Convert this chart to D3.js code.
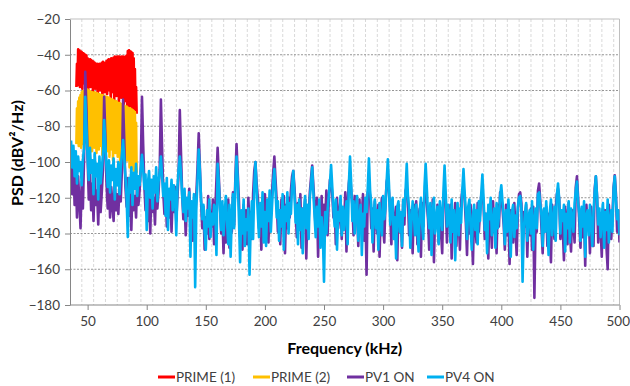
<!DOCTYPE html>
<html><head><meta charset="utf-8">
<script src="https://cdn.jsdelivr.net/npm/d3@7"></script>
<style>
html,body{margin:0;padding:0;background:#fff;}
svg{display:block;font-family:Lato,"Open Sans",sans-serif;}
</style></head><body>
<svg id="chart" width="630" height="386"></svg>
<script>
// Series names and colours
const seriesNames = ["PRIME (1)", "PRIME (2)", "PV1 ON", "PV4 ON"];
const seriesColors = ["#FF0000", "#FFC000", "#7030A0", "#00B0F0"];

// Axis ticks
const xTicks = [50, 100, 150, 200, 250, 300, 350, 400, 450, 500];
const yTicks = [-20, -40, -60, -80, -100, -120, -140, -160, -180];

// PRIME spectra, 0.5 kHz steps from 40.5 kHz
const primeStart = 40.5, primeStep = 0.5;
const prime1 = [
  -58,-45,-57,-37,-55,-37.5,-58,-38,-54,-38.5,-59,-39,-56,-39.5,-53,-40,-57,-40.5,-55,-42,
  -60,-42.5,-54,-42.5,-58,-43,-56,-43.5,-61,-44,-55,-44.5,-59,-45,-57,-45,-62,-45.5,-56,-45,
  -60,-45,-58,-44.5,-63,-44,-57,-44.5,-61,-45,-58,-43.5,-62,-43,-57,-42.5,-60,-42.5,-64,-42,
  -58,-42.5,-61,-41.5,-66,-41,-59,-41.5,-63,-41,-60,-41,-67,-41,-61,-41.5,-64,-41,-62,-41,
  -68,-41.5,-63,-41,-66,-40.5,-70,-38,-64,-37.5,-69,-38,-65,-38.5,-71,-39,-67,-42,-72,-48,
  -69,-58,-73
];
const prime2 = [
  -90,-70,-88,-66,-91,-64,-87,-62.5,-92,-61,-86,-60.5,-90,-60,-85,-59.7,-89,-60,-93,-59.5,
  -87,-60,-91,-60.5,-86,-61,-94,-61,-88,-61.5,-92,-61,-87,-61.5,-95,-61.5,-89,-62,-93,-62,
  -88,-62.5,-91,-62.5,-96,-63,-89,-63,-92,-63.5,-87,-63.5,-94,-64,-90,-64,-97,-64.5,-88,-65,
  -93,-65,-99,-65.5,-90,-66,-95,-66,-89,-66.5,-97,-67,-92,-67,-100,-67.5,-93,-68,-98,-68,
  -91,-68.5,-101,-69,-95,-69,-99,-69.5,-94,-70,-103,-70,-96,-70.5,-104,-71,-98,-71.5,-105,-72,
  -100,-78,-106
];

// PV spectra, 1 kHz steps from 36 kHz
const pvStart = 36, pvStep = 1;
const pv1On = [
  -95,-118,-100,-124,-104,-131,-108,-122,-137,-111,-126,-98,
  -49.5,-70,-98,-121,-106,-127,-112,-133,-109,-124,-116,-135,-111,-128,-117,-104,
  -63.5,-85,-112,-126,-108,-131,-114,-124,-133,-110,-127,-118,-129,-113,-122,-105,
  -65,-88,-114,-125,-109,-130,-117,-138,-112,-127,-119,-131,-108,-124,-116,-103,
  -63.5,-90,-113,-127,-111,-133,-118,-140,-114,-128,-120,-135,-112,-126,-117,-104,
  -65,-92,-117,-129,-113,-136,-121,-131,-116,-139,-119,-128,-114,-133,-120,-106,
  -71,-95,-118,-132,-121,-141,-124,-130,-115,-137,-126,-144,-122,-135,-118,-103,
  -84,-103,-122,-137,-125,-149,-131,-140,-119,-143,-128,-136,-121,-146,-127,-110,
  -92,-108,-124,-140,-129,-151,-126,-145,-133,-121,-148,-130,-139,-117,-135,-109,
  -90,-106,-121,-142,-131,-149,-124,-138,-127,-146,-120,-136,-128,-143,-118,-105,
  -100,-112,-120,-137,-126,-149,-122,-140,-118,-134,-125,-145,-121,-130,-117,-106,
  -97,-110,-122,-139,-127,-146,-121,-135,-119,-151,-124,-137,-120,-131,-116,-108,
  -105,-114,-127,-142,-123,-137,-118,-148,-126,-134,-121,-154,-125,-132,-117,-109,
  -102,-113,-125,-138,-120,-153,-127,-136,-119,-144,-124,-133,-116,-141,-122,-110,
  -111,-118,-131,-124,-146,-120,-137,-129,-121,-143,-126,-134,-117,-150,-123,-112,
  -106,-116,-124,-141,-119,-133,-127,-147,-121,-138,-130,-118,-144,-125,-163,-117,
  -115,-119,-137,-126,-150,-122,-131,-140,-124,-153,-128,-120,-136,-145,-123,-111,
  -108,-117,-128,-146,-121,-139,-133,-125,-155,-124,-137,-129,-148,-122,-135,-116,
  -114,-120,-141,-127,-134,-151,-124,-138,-122,-146,-130,-126,-153,-123,-136,-118,
  -114,-123,-132,-149,-125,-140,-121,-156,-129,-134,-124,-145,-127,-139,-151,-119,
  -118,-122,-145,-128,-136,-124,-154,-130,-138,-123,-147,-126,-133,-149,-122,-116,
  -113,-121,-134,-152,-126,-140,-124,-137,-157,-127,-133,-145,-123,-139,-128,-119,
  -118,-124,-143,-129,-136,-154,-125,-131,-148,-122,-139,-127,-151,-124,-136,-117,
  -120,-126,-135,-149,-124,-141,-130,-157,-127,-134,-145,-123,-138,-152,-128,-118,
  -117,-123,-146,-128,-136,-124,-153,-130,-141,-126,-149,-125,-176,-133,-139,-116,
  -112,-122,-137,-151,-127,-134,-125,-147,-129,-140,-156,-124,-136,-143,-126,-118,
  -115,-121,-143,-128,-137,-155,-125,-132,-146,-123,-139,-150,-127,-134,-145,-114,
  -108,-120,-134,-148,-126,-142,-131,-158,-124,-137,-129,-151,-125,-140,-147,-115,
  -108,-119,-145,-129,-136,-153,-126,-139,-127,-148,-160,-124,-134,-143,-131,-114,
  -107.5,-118,-139,-127,-145
];
const pv4On = [
  -88,-103,-91,-108,-94,-112,-97,-105,-100,-113,-99,-92,
  -63.5,-80,-97,-110,-92,-106,-99,-118,-95,-108,-101,-121,-97,-112,-104,-96,
  -76.5,-90,-103,-114,-99,-117,-102,-110,-98,-121,-104,-113,-100,-118,-103,-96,
  -87.7,-98,-108,-120,-142,-109,-117,-103,-124,-106,-115,-101,-119,-108,-113,-104,
  -96,-104,-115,-107,-138,-112,-105,-120,-110,-126,-108,-117,-103,-122,-111,-106,
  -97,-108,-119,-112,-130,-109,-138,-115,-121,-110,-127,-113,-118,-141,-114,-104,
  -97,-106,-119,-128,-115,-133,-120,-126,-117,-153,-122,-131,-118,-170,-125,-110,
  -93,-105,-121,-132,-124,-139,-149,-127,-136,-121,-142,-129,-135,-124,-126,-152,
  -101,-112,-126,-138,-122,-141,-128,-119,-134,-146,-124,-153,-130,-118,-137,-112,
  -97,-110,-131,-156,-127,-140,-121,-147,-132,-138,-126,-163,-135,-122,-143,-114,
  -100,-115,-129,-142,-123,-136,-117,-145,-128,-147,-121,-133,-116,-139,-125,-112,
  -104,-116,-131,-122,-144,-127,-136,-118,-149,-125,-133,-117,-140,-123,-129,-113,
  -105,-118,-134,-124,-146,-121,-138,-126,-151,-128,-119,-137,-124,-143,-120,-113,
  -103,-117,-130,-142,-125,-136,-121,-148,-131,-140,-167,-128,-140,-127,-119,-112,
  -101.7,-114,-127,-136,-121,-149,-128,-133,-119,-141,-125,-138,-130,-122,-146,-113,
  -97,-112,-133,-122,-140,-126,-119,-144,-131,-124,-152,-129,-136,-120,-128,-115,
  -98,-116,-124,-145,-130,-121,-137,-127,-149,-123,-134,-141,-119,-132,-126,-111,
  -98.5,-113,-135,-126,-120,-143,-131,-154,-125,-122,-139,-128,-147,-121,-130,-116,
  -101,-119,-126,-148,-133,-122,-129,-141,-124,-137,-150,-127,-120,-135,-143,-114,
  -101,-115,-129,-137,-123,-152,-128,-120,-140,-133,-125,-146,-122,-131,-138,-117,
  -102,-118,-136,-124,-130,-145,-121,-139,-127,-155,-132,-123,-141,-126,-134,-116,
  -104,-117,-128,-143,-125,-121,-136,-149,-130,-124,-138,-127,-146,-122,-133,-118,
  -107,-120,-138,-129,-151,-124,-132,-120,-141,-135,-126,-148,-123,-137,-130,-119,
  -113,-122,-131,-146,-127,-139,-121,-133,-153,-128,-124,-142,-130,-137,-125,-120,
  -119,-126,-167,-138,-129,-123,-144,-131,-127,-140,-122,-149,-134,-126,-137,-118,
  -117,-124,-130,-147,-126,-139,-122,-135,-152,-128,-121,-141,-133,-125,-144,-119,
  -112,-121,-140,-127,-133,-124,-150,-129,-137,-122,-145,-126,-131,-139,-123,-116,
  -111,-123,-129,-144,-125,-136,-122,-153,-130,-127,-141,-124,-135,-147,-128,-117,
  -108,-119,-135,-126,-142,-131,-123,-148,-128,-138,-121,-145,-133,-127,-139,-115,
  -108,-121,-132,-127,-141
];

const svg = d3.select("#chart");
const plot = {left: 70, right: 619.5, top: 19, bottom: 305};

const x = d3.scaleLinear().domain([35.1, 500]).range([plot.left, plot.right]);
const y = d3.scaleLinear().domain([-180, -20]).range([plot.bottom, plot.top]);

// minor vertical grid, every 10 kHz from the axis minimum
const xGrid = d3.range(1, 47).map(k => 35.1 + 10 * k).filter(v => v < 500);
svg.append("g").selectAll("line").data(xGrid).join("line")
  .attr("x1", d => x(d)).attr("x2", d => x(d))
  .attr("y1", plot.top).attr("y2", plot.bottom)
  .attr("stroke", "#d9d9d9").attr("stroke-width", 1)
  .attr("stroke-dasharray", "3,2");

// major horizontal grid
svg.append("g").selectAll("line").data(yTicks.filter(v => v > -180 && v < -20)).join("line")
  .attr("x1", plot.left).attr("x2", plot.right)
  .attr("y1", d => y(d)).attr("y2", d => y(d))
  .attr("stroke", "#969696").attr("stroke-width", 1)
  .attr("stroke-dasharray", "2,1.5");

// plot frame (top and right)
svg.append("path")
  .attr("d", `M${plot.left},${plot.top}H${plot.right}V${plot.bottom}`)
  .attr("fill", "none").attr("stroke", "#bfbfbf").attr("stroke-width", 1);

// data series
svg.append("defs").append("clipPath").attr("id", "clip")
  .append("rect").attr("x", plot.left).attr("y", plot.top)
  .attr("width", plot.right - plot.left).attr("height", plot.bottom - plot.top);

const line = d3.line().x(d => x(d[0])).y(d => y(d[1]));
const toPts = (vals, start, step) => vals.map((v, i) => [start + i * step, v]);

const seriesData = [
  toPts(prime1, primeStart, primeStep),
  toPts(prime2, primeStart, primeStep),
  toPts(pv1On, pvStart, pvStep),
  toPts(pv4On, pvStart, pvStep)
];

const gData = svg.append("g").attr("clip-path", "url(#clip)");
seriesData.forEach((pts, i) => {
  gData.append("path").datum(pts)
    .attr("d", line)
    .attr("fill", "none")
    .attr("stroke", seriesColors[i])
    .attr("stroke-width", 2.6)
    .attr("stroke-linejoin", "round");
});

// axes
const axisColor = "#868686";
const xAxis = svg.append("g").attr("transform", `translate(0,${plot.bottom})`)
  .call(d3.axisBottom(x).tickValues(xTicks).tickSize(5).tickSizeOuter(0).tickPadding(6));
const yAxis = svg.append("g").attr("transform", `translate(${plot.left},0)`)
  .call(d3.axisLeft(y).tickValues(yTicks).tickSize(5).tickSizeOuter(0).tickPadding(5));
[xAxis, yAxis].forEach(g => {
  g.select(".domain").attr("stroke", axisColor);
  g.selectAll(".tick line").attr("stroke", axisColor);
  g.selectAll(".tick text").attr("fill", "#404040")
    .style("font-family", "Lato, sans-serif").style("font-size", "13.5px");
});
xAxis.select(".domain").attr("d", `M${plot.left},0H${plot.right}`);
// keep the last frequency label inside the page edge
xAxis.selectAll(".tick").filter(d => d === 500).select("text")
  .attr("text-anchor", "end").attr("x", 10);

// axis titles
svg.append("text")
  .attr("x", (plot.left + plot.right) / 2).attr("y", 354)
  .attr("text-anchor", "middle")
  .style("font-weight", "bold").style("font-size", "16px").attr("fill", "#000")
  .text("Frequency (kHz)");
svg.append("text")
  .attr("transform", "translate(23,153) rotate(-90)")
  .attr("text-anchor", "middle")
  .style("font-weight", "bold").style("font-size", "16px").attr("fill", "#000")
  .text("PSD (dBV²/Hz)");

// legend
const legendX = [158, 253, 347, 427];
const legendY = 377;
const lg = svg.append("g");
seriesNames.forEach((name, i) => {
  lg.append("line")
    .attr("x1", legendX[i]).attr("x2", legendX[i] + 17)
    .attr("y1", legendY).attr("y2", legendY)
    .attr("stroke", seriesColors[i]).attr("stroke-width", 3);
  lg.append("text")
    .attr("x", legendX[i] + 18).attr("y", legendY + 4.5)
    .style("font-size", "13.5px").attr("fill", "#404040")
    .text(name);
});
</script>
</body></html>
